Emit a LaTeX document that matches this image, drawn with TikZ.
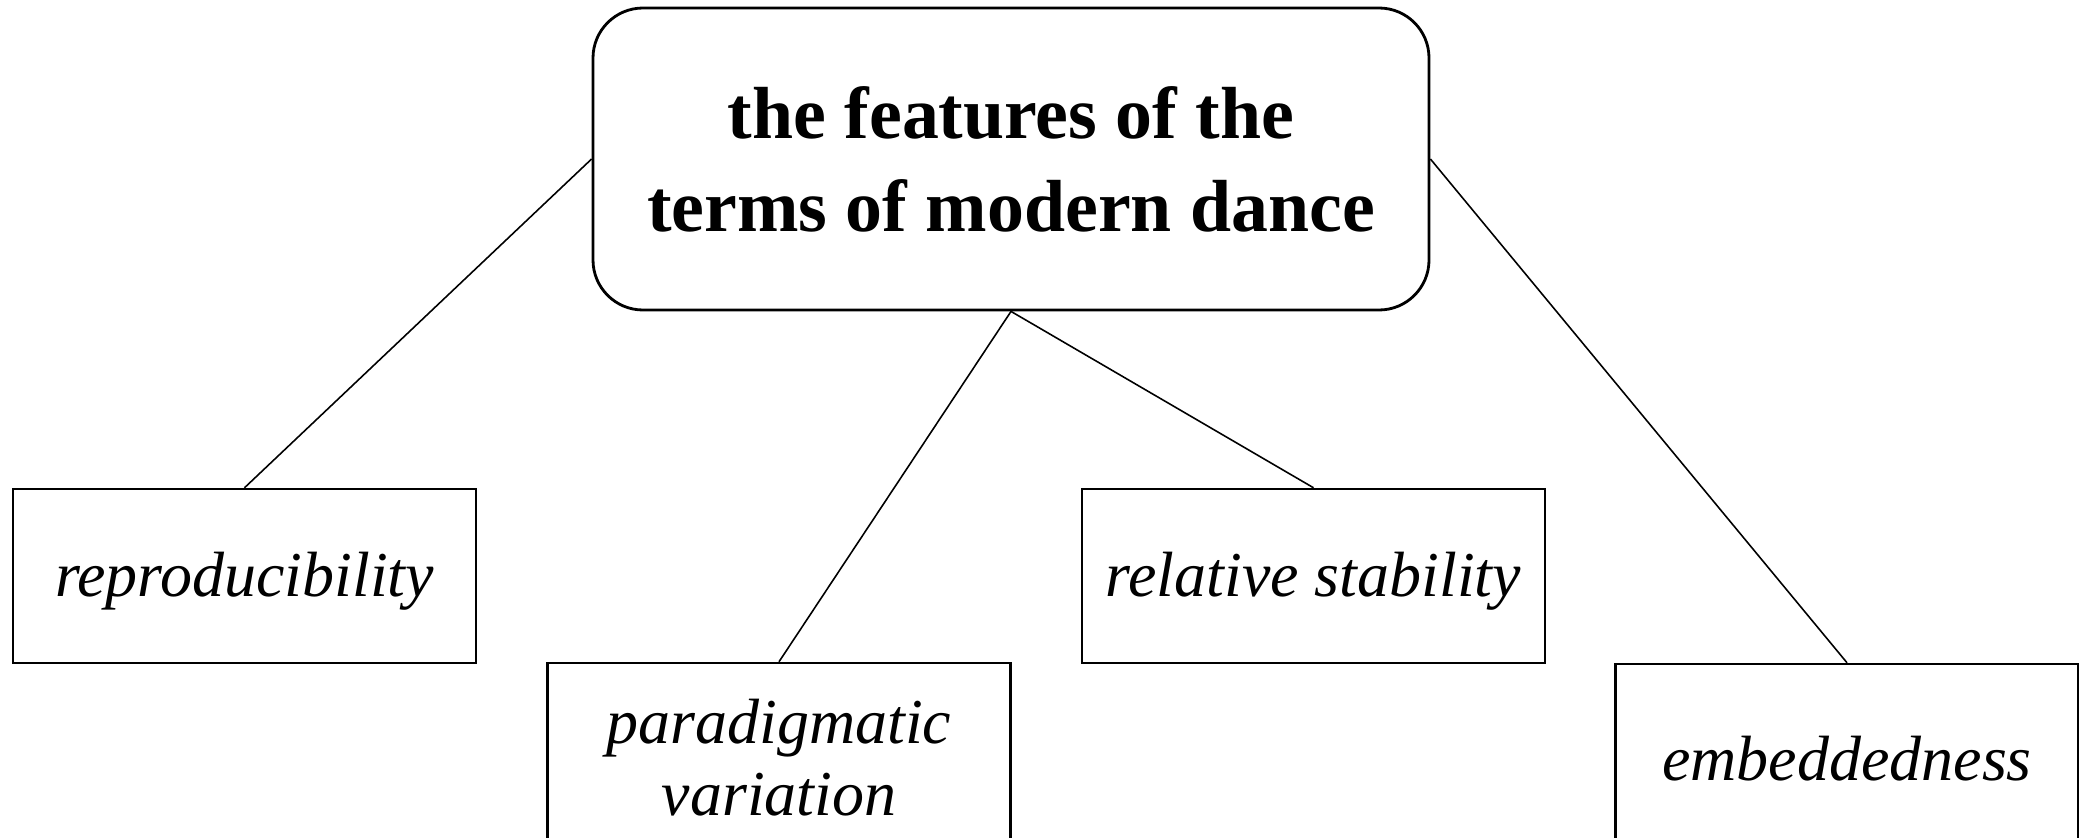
\documentclass[tikz,border=0pt]{standalone}
\usepackage{fontspec}
\setmainfont{Liberation Serif}
\begin{document}
\begin{tikzpicture}[
	titlebox/.style={draw,line width=.8pt,rounded corners=.5cm,minimum width=8.36cm,minimum height=3.02cm,align=center,font=\fontsize{21}{26.5}\selectfont\bfseries},
	featbox/.style={draw,line width=.7pt,minimum width=4.63cm,minimum height=1.74cm,align=center,font=\fontsize{18.2}{20.5}\selectfont\itshape},
	link/.style={line width=.45pt}]
	\useasboundingbox (0,0) rectangle (20.79,-8.37);
	\node[titlebox] (feat) at (10.11,-1.59) {the features of the\\terms of modern dance};
	\node[featbox,text height=15.5pt] (repr) at (2.445,-5.76) {reproducibility};
	\node[featbox,minimum height=1.9cm] (para) at (7.79,-7.58) {paradigmatic\\variation};
	\node[featbox,text height=15.5pt] (stab) at (13.135,-5.76) {relative stability};
	\node[featbox,minimum height=1.9cm] (embd) at (18.47,-7.59) {embeddedness};
	\draw[link] (feat.west)--(repr.north);  \draw[link] (feat.south)--(para.north);
	\draw[link] (feat.south)--(stab.north); \draw[link] (feat.east)--(embd.north);
\end{tikzpicture}
\end{document}
